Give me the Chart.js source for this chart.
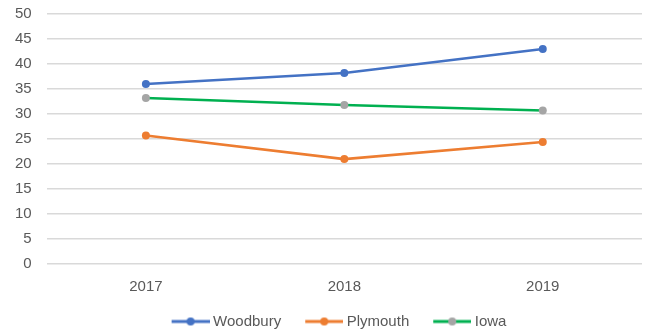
<!DOCTYPE html>
<html>
<head>
<meta charset="utf-8">
<script src="https://cdn.jsdelivr.net/npm/chart.js@4"></script>
<style>
  html, body { margin: 0; padding: 0; background: #ffffff; overflow: hidden; }
  #wrap { width: 646px; height: 349px; margin-top: -10px; }
</style>
</head>
<body>
<div id="wrap"><canvas id="chart"></canvas></div>
<script>
const years = ["2017", "2018", "2019"];
const woodbury = [36, 38.2, 43];
const plymouth = [25.7, 21, 24.4];
const iowa = [33.2, 31.8, 30.7];
const yTicks = [0, 5, 10, 15, 20, 25, 30, 35, 40, 45, 50];

const textColor = "#595959";
const gridColor = "#d9d9d9";
const fontFamily = "Liberation Sans";

// legend marker: short line with a dot, pushed to the right of a wider box
function legendMarker(lineColor, dotColor) {
  const c = document.createElement("canvas");
  c.width = 54;
  c.height = 10;
  const g = c.getContext("2d");
  g.strokeStyle = lineColor;
  g.lineWidth = 3;
  g.beginPath();
  g.moveTo(16, 5);
  g.lineTo(54, 5);
  g.stroke();
  g.fillStyle = dotColor;
  g.beginPath();
  g.arc(35, 5, 4, 0, Math.PI * 2);
  g.fill();
  return c;
}

const series = [
  { label: "Woodbury", data: woodbury, line: "#4472c4", dot: "#4472c4" },
  { label: "Plymouth", data: plymouth, line: "#ed7d31", dot: "#ed7d31" },
  { label: "Iowa", data: iowa, line: "#00b050", dot: "#a5a5a5" }
];

// nudge the legend a little to the right, the way the original sits
const legendShift = {
  id: "legendShift",
  afterLayout(chart) {
    if (chart.legend) {
      chart.legend.left += 12;
      chart.legend.right += 12;
    }
  }
};

document.addEventListener("DOMContentLoaded", function () {
  const ctx = document.getElementById("chart");

  new Chart(ctx, {
    type: "line",
    data: {
      labels: years,
      datasets: series.map(s => ({
        label: s.label,
        data: s.data,
        borderColor: s.line,
        backgroundColor: s.dot,
        pointBackgroundColor: s.dot,
        pointBorderWidth: 0,
        pointRadius: 4,
        borderWidth: 2.75,
        tension: 0,
        fill: false
      }))
    },
    plugins: [legendShift],
    options: {
      responsive: true,
      maintainAspectRatio: false,
      animation: false,
      layout: { padding: { top: 0, left: 0, right: 4, bottom: 0 } },
      plugins: {
        tooltip: { enabled: false },
        legend: {
          position: "bottom",
          labels: {
            color: textColor,
            font: { family: fontFamily, size: 15 },
            usePointStyle: true,
            pointStyleWidth: 46,
            boxHeight: 10,
            padding: 12,
            generateLabels: function (chart) {
              const items = Chart.defaults.plugins.legend.labels.generateLabels(chart);
              items.forEach((it, i) => {
                it.pointStyle = legendMarker(series[i].line, series[i].dot);
              });
              return items;
            }
          }
        }
      },
      scales: {
        x: {
          offset: true,
          grid: { display: false },
          border: { display: false },
          ticks: {
            color: textColor,
            font: { family: fontFamily, size: 15 },
            padding: 6
          }
        },
        y: {
          min: 0,
          max: 50,
          afterBuildTicks: axis => { axis.ticks = yTicks.map(v => ({ value: v })); },
          grid: { color: gridColor, lineWidth: 1.5, drawTicks: false },
          border: { display: false },
          ticks: {
            color: textColor,
            font: { family: fontFamily, size: 15 },
            padding: 15
          }
        }
      }
    }
  });
});
</script>
</body>
</html>
